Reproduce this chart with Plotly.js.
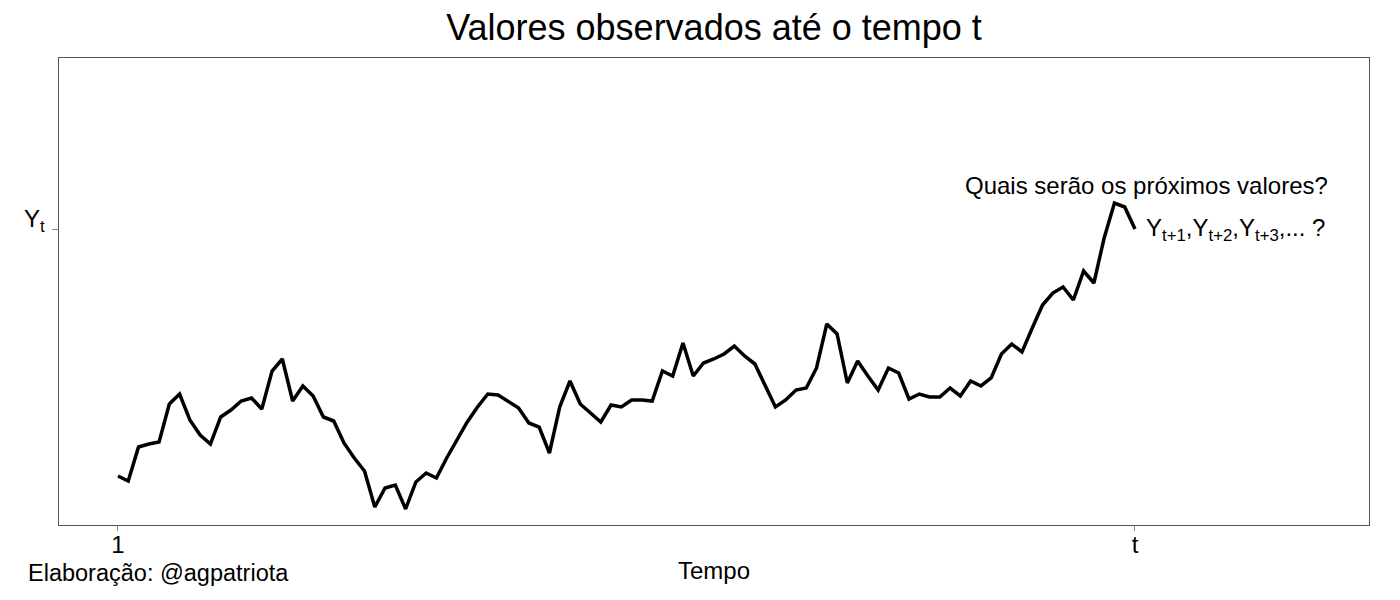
<!DOCTYPE html>
<html>
<head>
<meta charset="utf-8">
<script src="https://cdn.plot.ly/plotly-3.0.1.min.js"></script>
<style>html,body{margin:0;padding:0;background:#fff;}#chart{width:1400px;height:600px;}</style>
</head>
<body>
<div id="chart"></div>
<script>
// Observed series (arbitrary units), time index 1..t (t = 100)
const tempo = Array.from({length: 100}, (_, i) => i + 1);
const valores = [
  4.9, 4.4, 7.8, 8.1, 8.3, 12.1, 13.1, 10.5, 9.0, 8.1,
  10.8, 11.5, 12.4, 12.7, 11.6, 15.4, 16.6, 12.4, 13.9, 12.9,
  10.8, 10.4, 8.2, 6.7, 5.4, 1.8, 3.7, 4.0, 1.6, 4.3,
  5.2, 4.7, 6.7, 8.5, 10.3, 11.8, 13.1, 13.0, 12.4, 11.7,
  10.2, 9.8, 7.2, 11.8, 14.4, 12.1, 11.2, 10.3, 12.0, 11.8,
  12.5, 12.5, 12.4, 15.4, 14.9, 18.2, 14.9, 16.2, 16.6, 17.1,
  17.9, 16.9, 16.1, 14.0, 11.8, 12.5, 13.5, 13.7, 15.7, 20.1,
  19.1, 14.2, 16.4, 14.9, 13.5, 15.7, 15.2, 12.6, 13.1, 12.8,
  12.8, 13.7, 12.9, 14.4, 13.9, 14.7, 17.1, 18.1, 17.3, 19.7,
  22.0, 23.2, 23.8, 22.5, 25.4, 24.2, 28.7, 32.2, 31.8, 29.6
];
const xTickLabels = ["1", "t"];
const yTickLabel = "Y<sub>t</sub>";

const n = tempo.length;
const yLast = valores[n - 1];
const FONT = "Liberation Sans, Arial, Helvetica, sans-serif";
const FS = 24;

const trace = {
  x: tempo, y: valores, type: "scatter", mode: "lines",
  line: {color: "#000", width: 3.5}, hoverinfo: "skip"
};

const layout = {
  width: 1400, height: 600,
  margin: {l: 59, r: 31, t: 58, b: 75},
  paper_bgcolor: "#fff", plot_bgcolor: "#fff",
  showlegend: false,
  font: {family: FONT, color: "#000"},
  title: {text: "Valores observados até o tempo t", x: 0.51, xanchor: "center", y: 0.955, yanchor: "middle",
          font: {size: 36, family: FONT, color: "#000"}},
  xaxis: {
    range: [-4.74, 122.78], showgrid: false, zeroline: false,
    showline: true, mirror: true, linecolor: "#555", linewidth: 1,
    tickmode: "array", tickvals: [tempo[0], tempo[n - 1]], ticktext: xTickLabels,
    ticks: "outside", ticklen: 5, tickcolor: "#888", tickwidth: 1,
    ticklabelstandoff: -7,
    tickfont: {size: FS, family: FONT, color: "#000"},
    title: {text: "Tempo", font: {size: FS, family: FONT, color: "#000"}, standoff: 5}
  },
  yaxis: {
    range: [0, 46.7], showgrid: false, zeroline: false,
    showline: true, mirror: true, linecolor: "#555", linewidth: 1,
    tickmode: "array", tickvals: [yLast], ticktext: [""],
    ticks: "outside", ticklen: 6, tickcolor: "#888", tickwidth: 1,
    tickfont: {size: FS, family: FONT, color: "#000"}
  },
  annotations: [
    {xref: "paper", yref: "y", x: -12 / 1310, y: yLast, xanchor: "right", yanchor: "middle", yshift: 9,
     text: yTickLabel, showarrow: false,
     font: {size: FS, family: FONT, color: "#000"}},
    {xref: "x", yref: "y", x: tempo[n - 1] + 1.1, y: yLast + 4.4, xanchor: "center", yanchor: "middle",
     text: "Quais serão os próximos valores?", showarrow: false,
     font: {size: FS, family: FONT, color: "#000"}},
    {xref: "x", yref: "y", x: tempo[n - 1] + 0.9, y: yLast, xanchor: "left", yanchor: "middle",
     text: "Y<sub>t+1</sub>,Y<sub>t+2</sub>,Y<sub>t+3</sub>,... ?", showarrow: false,
     font: {size: FS, family: FONT, color: "#000"}},
    {xref: "paper", yref: "paper", x: -33 / 1310, y: -0.1028, xanchor: "left", yanchor: "middle",
     text: "Elaboração: @agpatriota", showarrow: false,
     font: {size: 23.5, family: FONT, color: "#000"}}
  ]
};

Plotly.newPlot("chart", [trace], layout, {displayModeBar: false, staticPlot: true});
</script>
</body>
</html>
